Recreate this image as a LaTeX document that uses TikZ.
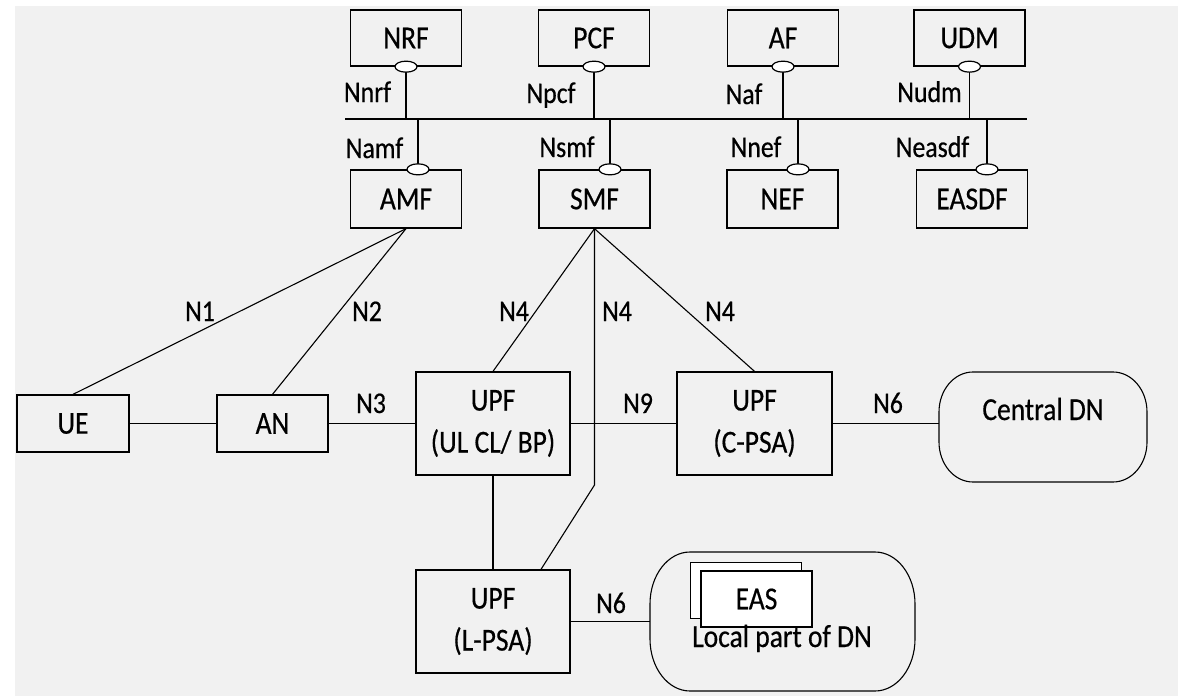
\documentclass[tikz,border=0pt]{standalone}
\usepackage{fontspec}
\setmainfont{Carlito}[FakeStretch=0.86,FakeBold=0.5]
\usetikzlibrary{shapes.geometric}
\definecolor{bg}{RGB}{241,241,241}
\begin{document}
\begin{tikzpicture}[x=1pt,y=-1pt,
  every path/.style={line width=1.1pt},
  nf/.style={draw, line width=1.3pt, inner sep=0pt, align=center, font=\fontsize{32}{36}\selectfont},
  topbox/.style={nf, minimum width=111pt, minimum height=56pt},
  botbox/.style={nf, minimum width=111pt, minimum height=58pt},
  upfbox/.style={nf, minimum width=154pt, minimum height=103pt},
  port/.style={draw, ellipse, fill=white, line width=1.2pt, inner sep=0pt, minimum width=22pt, minimum height=11pt},
  lbl/.style={inner sep=0pt, anchor=base, font=\fontsize{30}{34}\selectfont},
  dntext/.style={inner sep=0pt, anchor=base, font=\fontsize{32}{36}\selectfont},
  easbox/.style={draw, fill=white, line width=1.3pt, minimum width=111pt, minimum height=56pt, inner sep=0pt, font=\fontsize{32}{36}\selectfont}]
\useasboundingbox (0,0) rectangle (1178,696);
\fill[bg] (15,6) rectangle (1178,696);

% top boxes
\node[topbox] (NRF) at (406,38) {NRF};
\node[topbox] (PCF) at (594,38) {PCF};
\node[topbox] (AF) at (783,38) {AF};
\node[topbox] (UDM) at (969.5,38) {UDM};
\node[botbox] (AMF) at (406,199) {AMF};
\node[botbox] (SMF) at (594.5,199) {SMF};
\node[botbox] (NEF) at (782.5,199) {NEF};
\node[botbox] (EASDF) at (972,199) {EASDF};

% bus
\coordinate (busL) at (345,119);
\coordinate (busR) at (1027,119);
\draw (busL) -- (busR);

% ports
\coordinate (pNRF) at (NRF.south);
\coordinate (pPCF) at (PCF.south);
\coordinate (pAF) at (AF.south);
\coordinate (pUDM) at (UDM.south);
\coordinate (pAMF) at ([xshift=12pt]AMF.north);
\coordinate (pSMF) at ([xshift=15.5pt]SMF.north);
\coordinate (pNEF) at ([xshift=15.5pt]NEF.north);
\coordinate (pEASDF) at ([xshift=15pt]EASDF.north);
\foreach \p in {NRF,PCF,AF,UDM}{
  \draw (p\p) -- (p\p |- busL);
}
\foreach \p in {AMF,SMF,NEF,EASDF}{
  \draw (p\p) -- (p\p |- busL);
}
\foreach \p in {NRF,PCF,AF,UDM,AMF,SMF,NEF,EASDF}{
  \node[port] (e\p) at (p\p) {};
}

% service labels
\node[lbl] (lNnrf) at (367.5,102) {Nnrf};
\node[lbl] (lNpcf) at (551,103) {Npcf};
\node[lbl] (lNaf) at (744,104) {Naf};
\node[lbl] (lNudm) at (929.5,102) {Nudm};
\node[lbl] (lNamf) at (374.5,158) {Namf};
\node[lbl] (lNsmf) at (567,157) {Nsmf};
\node[lbl] (lNnef) at (756,157) {Nnef};
\node[lbl] (lNeasdf) at (932.5,157) {Neasdf};

% user plane
\node[nf, minimum width=112pt, minimum height=57pt] (UE) at (73,423.5) {UE};
\node[nf, minimum width=111pt, minimum height=57pt] (AN) at (272.5,423.5) {AN};
\node[upfbox] (UPF1) at (493,423.5) {UPF\\[6pt](UL CL/ BP)};
\node[upfbox, minimum width=155pt] (CPSA) at (754.5,423.5) {UPF\\[6pt](C-PSA)};
\node[upfbox] (LPSA) at (493,621.5) {UPF\\[6pt](L-PSA)};

% data networks
\draw (973,372) -- (1113,372) .. controls (1131.8,372) and (1147,389.9) .. (1147,412)
  -- (1147,442) .. controls (1147,464.1) and (1131.8,482) .. (1113,482)
  -- (973,482) .. controls (954.2,482) and (939,464.1) .. (939,442)
  -- (939,412) .. controls (939,389.9) and (954.2,372) .. (973,372) -- cycle;
\coordinate (cdnW) at (939,423.5);
\node[dntext] (CDN) at (1043,420) {Central DN};

\draw (690,552) -- (875,552) .. controls (897.1,552) and (915,575.3) .. (915,604)
  -- (915,639) .. controls (915,667.7) and (897.1,691) .. (875,691)
  -- (690,691) .. controls (667.9,691) and (650,667.7) .. (650,639)
  -- (650,604) .. controls (650,575.3) and (667.9,552) .. (690,552) -- cycle;
\coordinate (ldnW) at (650,621.5);
\node[easbox] (EAS2) at (746,590.5) {};
\node[easbox] (EAS) at (756.5,599) {EAS};
\node[dntext] (LDN) at (782,647) {Local part of DN};

% connectors
\draw (AMF.south) -- (UE.north);
\draw (AMF.south) -- (AN.north);
\draw (SMF.south) -- (UPF1.north);
\draw (SMF.south) -- (CPSA.north);
\coordinate (bend) at (594.5,485);
\coordinate (lpTop) at ([xshift=48pt]LPSA.north);
\draw (SMF.south) -- (bend) -- (lpTop);
\draw (UE.east) -- (AN.west);
\draw (AN.east) -- (UPF1.west);
\draw (UPF1.east) -- (CPSA.west);
\draw (CPSA.east) -- (cdnW);
\draw (UPF1.south) -- (LPSA.north);
\draw (LPSA.east) -- (ldnW);

% interface labels
\node[lbl] (lN1) at (200,321) {N1};
\node[lbl] (lN2) at (367,321) {N2};
\node[lbl] (lN4a) at (514,321) {N4};
\node[lbl] (lN4b) at (617,321) {N4};
\node[lbl] (lN4c) at (720,321) {N4};
\node[lbl] (lN3) at (371,413) {N3};
\node[lbl] (lN9) at (638,413) {N9};
\node[lbl] (lN6a) at (888,413) {N6};
\node[lbl] (lN6b) at (611,613) {N6};
\end{tikzpicture}
\end{document}
